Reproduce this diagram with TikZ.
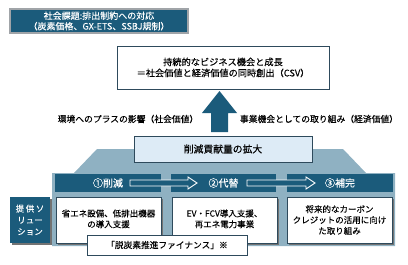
\documentclass[tikz,border=0pt]{standalone}
\usepackage{fontspec}
\setmainfont{Noto Sans CJK JP}[UprightFeatures={FakeBold=0.15}]
\usetikzlibrary{shadows}
\definecolor{dblue}{HTML}{1B5B7B}
\definecolor{gpanel}{HTML}{8FB1C2}
\definecolor{lblue}{HTML}{DDEBF6}
\definecolor{bordr}{HTML}{2E4A5C}
\definecolor{tbord}{HTML}{A0A4A8}
\begin{document}
\begin{tikzpicture}[x=1pt,y=-1pt,
  base/.style={inner sep=0pt, align=center, font=\fontsize{8.5}{10.5}\selectfont},
  whitebox/.style={base, fill=white, draw=bordr, line width=0.6pt},
  darkbox/.style={base, fill=dblue, text=white},
  barbox/.style={base, fill=dblue, text=white, minimum height=18pt, font=\fontsize{10}{12}\selectfont},
  shad/.style={drop shadow={shadow xshift=1.5pt, shadow yshift=-1.5pt, fill=black!55, opacity=1}},
  lab/.style={inner sep=0pt, font=\fontsize{8.8}{10.5}\selectfont},
  blockarrow/.style={fill=dblue, draw=white, line width=0.9pt, line join=miter}
]
\useasboundingbox (0,0) rectangle (408,265);

% top-left issue box
\node[darkbox, draw=tbord, line width=1.2pt, minimum width=178pt, minimum height=24pt, font=\fontsize{9}{10.5}\selectfont] (issue) at (99,21)
  {社会課題:排出制約への対応\\（炭素価格、GX-ETS、SSBJ規制）};

% main goal box
\node[whitebox, line width=0.9pt, minimum width=212pt, minimum height=43pt, font=\fontsize{9.2}{11}\selectfont] (goal) at (223,67.5)
  {持続的なビジネス機会と成長\\＝社会価値と経済価値の同時創出（CSV）};

% gray panel
\path[fill=gpanel] (97,149) -- (343,149) -- (366,173) -- (395,173) -- (395,246) -- (52,246) -- (52,173) -- (74,173) -- cycle;

% contribution box
\node[base, fill=lblue, draw=bordr, line width=0.7pt, minimum width=178pt, minimum height=26pt, font=\fontsize{9.8}{12}\selectfont] (contrib) at (223,149) {削減貢献量の拡大};

% big upward arrow
\coordinate (abot) at (219.5,132);
\coordinate (atip) at (219.5,91);
\path[fill=dblue] ([xshift=-8.5pt]abot) -- ++(0,-19) -- ++(-9,0) -- (atip) -- ++(17.5,22) -- ++(-9,0) -- ([xshift=8.5pt]abot) -- cycle;

% side labels
\node[lab] (social) at (128,119) {環境へのプラスの影響（社会価値）};
\node[lab] (econ) at (319,119) {事業機会としての取り組み（経済価値）};

% bars
\node[barbox, minimum width=106pt] (bar1) at (108,183) {①削減};
\node[barbox, minimum width=105pt] (bar2) at (223.5,183) {②代替};
\node[barbox, minimum width=106pt] (bar3) at (340,183) {③補完};

% small block arrows
\path[blockarrow] (130,180) -- (188,180) -- (188,177) -- (197,183) -- (188,189) -- (188,186) -- (130,186) -- cycle;
\path[blockarrow] (247,180) -- (306,180) -- (306,177) -- (315,183) -- (306,189) -- (306,186) -- (247,186) -- cycle;

% solution boxes
\node[whitebox, shad, minimum width=105pt, minimum height=46pt] (sol1) at (108.5,220)
  {\raisebox{3pt}{\shortstack{省エネ設備、低排出機器\\の導入支援}}};
\node[whitebox, shad, minimum width=105pt, minimum height=46pt] (sol2) at (224.5,220)
  {\raisebox{3pt}{\shortstack{EV・FCV導入支援、\\再エネ電力事業}}};
\node[whitebox, shad, minimum width=105pt, minimum height=46pt] (sol3) at (339.5,220)
  {\shortstack{将来的なカーボン\\クレジットの活用に向け\\た取り組み}};

% left label box
\node[darkbox, shad, minimum width=40pt, minimum height=46pt, font=\fontsize{8.5}{11.5}\selectfont] (offer) at (30,220)
  {\addfontfeatures{LetterSpace=18}提供ソ\\リュー\\ション};

% finance box
\node[whitebox, line width=0.7pt, minimum width=160pt, minimum height=20pt, font=\fontsize{8.7}{10}\selectfont] (fin) at (167,245)
  {「脱炭素推進ファイナンス」※};
\end{tikzpicture}
\end{document}
